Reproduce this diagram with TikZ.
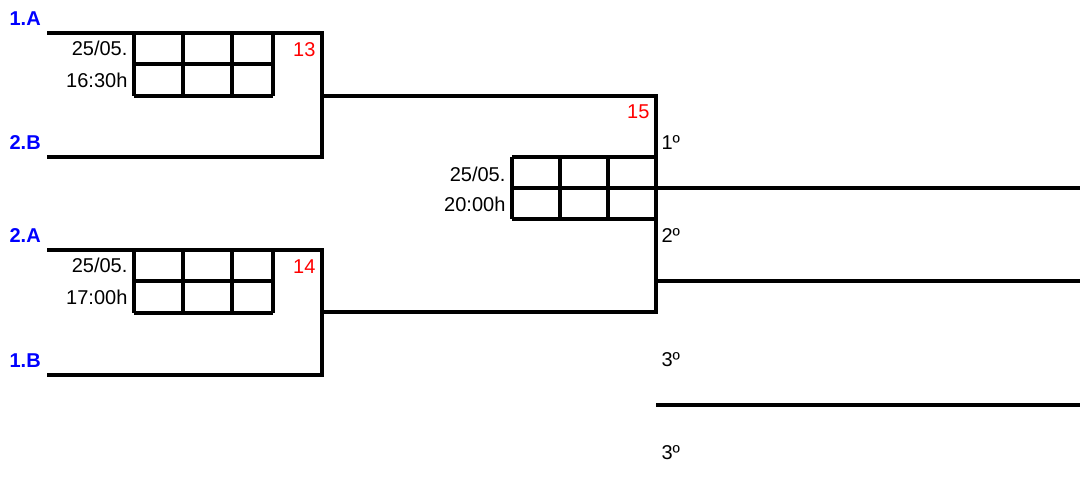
\documentclass[tikz,border=0pt]{standalone}
\usepackage{fontspec}
\setmainfont{Liberation Sans}
\usetikzlibrary{positioning}

\begin{document}
\begin{tikzpicture}[
            x = 1pt, y = -1pt, % pixel units, y down
            line width = 3.2pt, % line style
            line join = miter
        ]

        \useasboundingbox (0,0) rectangle (1080,494);

        \tikzstyle{every node}=[
        inner sep = 0pt,
        font = \fontsize{20}{24}\selectfont
        ]
        \tikzstyle{team}=[anchor = base west, text = blue, font = \bfseries\fontsize{20}{24}\selectfont]
        \tikzstyle{date}=[anchor = base east]
        \tikzstyle{game}=[anchor = base east, text = red]
        \tikzstyle{rank}=[anchor = base west]

        % match 13
        \coordinate (m13a) at (47,33);
        \coordinate (m13b) at (322,33);
        \coordinate (m13c) at (322,157);
        \coordinate (m13d) at (47,157);
        \coordinate (m13o) at (322,96);
        \node[team] (1A) at (8,26) {1.A};
        \node[team] (2B) at (8,150) {2.B};
        \node[date] (d13) at (129,56) {25/05.};
        \node[date] (t13) at (129,88) {16:30h};
        \node[game] (g13) at (317,57) {13};
        \foreach \x in {134,183,232,273} \draw (\x,33) -- (\x,96);
        \foreach \y in {64,96} \draw (134,\y) -- (273,\y);
        \draw (m13a) -- (m13b) -- (m13c) -- (m13d);

        % match 14
        \coordinate (m14a) at (47,250);
        \coordinate (m14b) at (322,250);
        \coordinate (m14c) at (322,375);
        \coordinate (m14d) at (47,375);
        \coordinate (m14o) at (322,312);
        \node[team] (2A) at (8,243) {2.A};
        \node[team] (1B) at (8,368) {1.B};
        \node[date] (d14) at (129,273) {25/05.};
        \node[date] (t14) at (129,305) {17:00h};
        \node[game] (g14) at (317,274) {14};
        \foreach \x in {134,183,232,273} \draw (\x,250) -- (\x,313);
        \foreach \y in {281,313} \draw (134,\y) -- (273,\y);
        \draw (m14a) -- (m14b) -- (m14c) -- (m14d);

        % match 15
        \coordinate (m15a) at (656,96);
        \coordinate (m15b) at (656,312);
        \coordinate (r1) at (1080,188);
        \coordinate (r2a) at (656,281);
        \coordinate (r2) at (1080,281);
        \coordinate (r3a) at (656,405);
        \coordinate (r3) at (1080,405);
        \node[game] (g15) at (651,119) {15};
        \node[date] (d15) at (507,182) {25/05.};
        \node[date] (t15) at (507,212) {20:00h};
        \foreach \x in {512,560,608} \draw (\x,157) -- (\x,219);
        \foreach \y in {157,219} \draw (512,\y) -- (656,\y);
        \draw (512,188) -- (r1);
        \draw (m13o) -- (m15a) -- (m15b) -- (m14o);
        \draw (r2a) -- (r2);
        \draw (r3a) -- (r3);

        \node[rank] (p1) at (660,150) {1º};
        \node[rank] (p2) at (660,243) {2º};
        \node[rank] (p3) at (660,367) {3º};
        \node[rank] (p4) at (660,460) {3º};
    \end{tikzpicture}
\end{document}
